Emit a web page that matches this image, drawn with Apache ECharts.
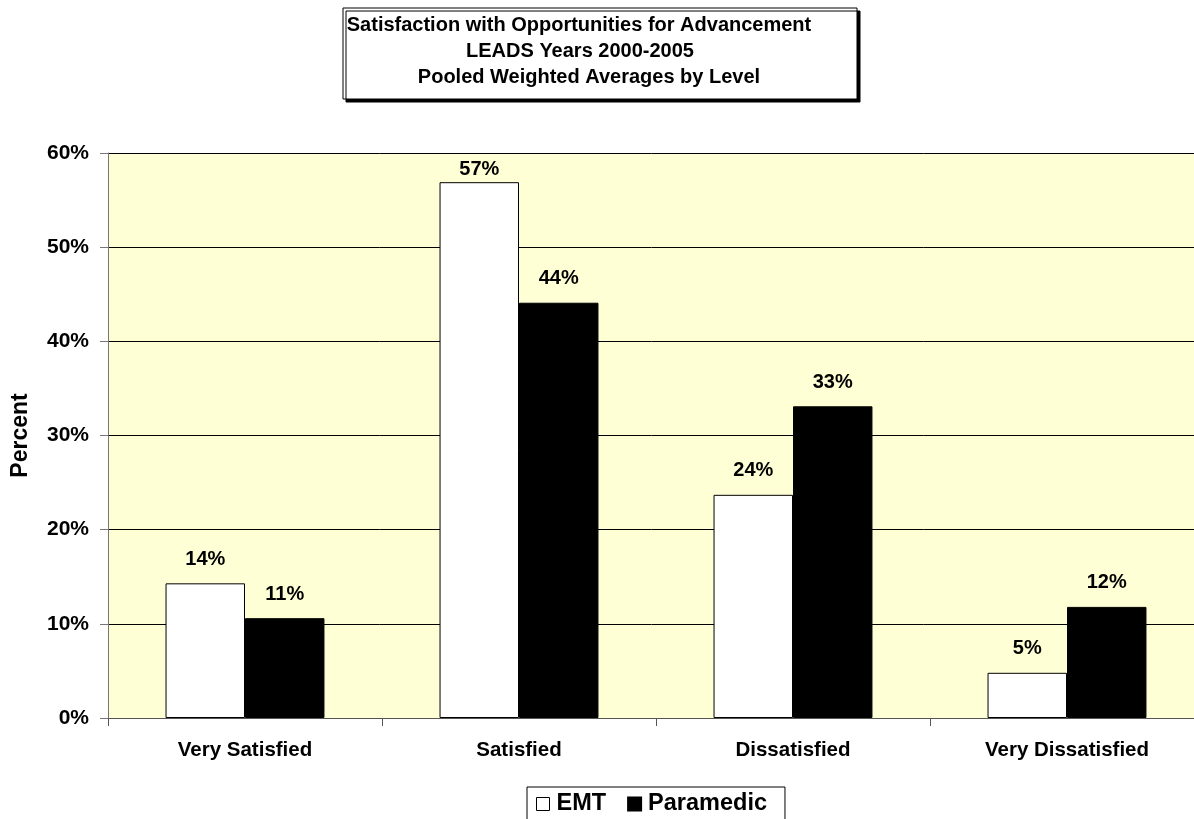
<!DOCTYPE html>
<html><head><meta charset="utf-8">
<script src="https://cdn.jsdelivr.net/npm/echarts@6/dist/echarts.min.js"></script>
<style>html,body{margin:0;padding:0;background:#fff}#c{width:1194px;height:819px}</style>
</head><body><div id="c"></div>
<script>
const categories = ['Very Satisfied', 'Satisfied', 'Dissatisfied', 'Very Dissatisfied'];
const emtValues = [14.3, 56.9, 23.7, 4.8];
const paramedicValues = [10.6, 44.1, 33.1, 11.8];
const yTicks = [0, 10, 20, 30, 40, 50, 60];
const titleLines = ['Satisfaction with Opportunities for Advancement', 'LEADS Years 2000-2005', 'Pooled Weighted Averages by Level'];
const seriesNames = ['EMT', 'Paramedic'];

const FONT = "'Liberation Sans', Arial, sans-serif";
const chart = echarts.init(document.getElementById('c'));

function dataWithLabels(vals) {
  return vals.map(v => ({
    value: v,
    label: { distance: v > 55 ? 3 : 14 }
  }));
}

const labelStyle = {
  show: true, position: 'top', color: '#000', fontFamily: FONT,
  fontWeight: 'bold', fontSize: 20,
  formatter: p => Math.round(p.value) + '%'
};

const titleX = [579, 580, 589];
const titleY = [25, 51, 77];

chart.setOption({
  animation: false,
  backgroundColor: '#fff',
  graphic: [
    { type: 'rect', shape: { x: 343, y: 8, width: 514, height: 91 },
      style: { fill: '#fff', stroke: '#000', lineWidth: 1, shadowColor: '#000', shadowOffsetX: 3, shadowOffsetY: 3, shadowBlur: 0 } }
  ].concat(titleLines.map((t, i) => ({
    type: 'text', x: titleX[i], y: titleY[i],
    style: { text: t, font: 'bold 20px ' + FONT, fill: '#000',
      textAlign: 'center', textVerticalAlign: 'middle' }
  }))),
  legend: {
    data: [
      { name: seriesNames[0], itemStyle: { color: '#fff', borderColor: '#000', borderWidth: 1 } },
      { name: seriesNames[1], itemStyle: { color: '#000' } }
    ],
    left: 527, top: 787,
    orient: 'horizontal',
    borderColor: '#000', borderWidth: 1, backgroundColor: '#fff',
    padding: [5, 18, 8, 9],
    itemWidth: 13, itemHeight: 13, itemGap: 21,
    icon: 'rect',
    textStyle: { fontFamily: FONT, fontWeight: 'bold', fontSize: 23.5, color: '#000', padding: [0, 0, 0, 2] }
  },
  grid: {
    left: 108, top: 153, right: -10, bottom: 101,
    outerBoundsMode: 'none', containLabel: false,
    show: true, backgroundColor: '#FFFFD6', borderWidth: 0
  },
  xAxis: {
    type: 'category', data: categories,
    axisLine: { lineStyle: { color: '#555', width: 1 } },
    axisTick: { show: true, length: 8, lineStyle: { color: '#555' } },
    axisLabel: { color: '#000', fontFamily: FONT, fontWeight: 'bold', fontSize: 20.5, margin: 22 }
  },
  yAxis: {
    type: 'value', min: 0, max: 60, interval: 10,
    name: 'Percent', nameLocation: 'middle', nameGap: 76, nameRotate: 90,
    nameTextStyle: { color: '#000', fontFamily: FONT, fontWeight: 'bold', fontSize: 23 },
    axisLine: { show: true, lineStyle: { color: '#777', width: 1 } },
    axisTick: { show: true, length: 8, lineStyle: { color: '#777' } },
    axisLabel: { color: '#000', fontFamily: FONT, fontWeight: 'bold', fontSize: 21, margin: 19,
      formatter: v => yTicks.includes(v) ? v + '%' : '' },
    splitLine: { show: true, lineStyle: { color: '#000', width: 1 } }
  },
  series: [
    { name: seriesNames[0], type: 'bar', data: dataWithLabels(emtValues),
      barGap: '0%', barCategoryGap: '42%',
      itemStyle: { color: '#fff', borderColor: '#000', borderWidth: 1 },
      label: labelStyle },
    { name: seriesNames[1], type: 'bar', data: dataWithLabels(paramedicValues),
      barGap: '0%', barCategoryGap: '42%',
      itemStyle: { color: '#000', borderColor: '#000', borderWidth: 1 },
      label: labelStyle }
  ]
});
</script></body></html>
